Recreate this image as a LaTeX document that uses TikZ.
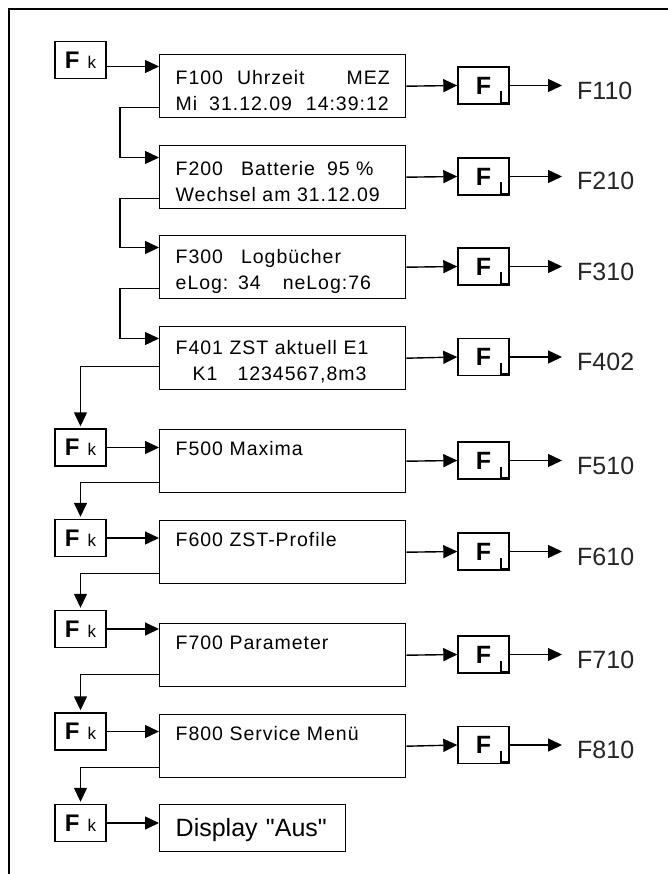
\documentclass[tikz,border=0pt]{standalone}
\usepackage{fontspec}
\setmainfont{Liberation Sans}
\newfontfamily\lcdfont[LetterSpace=5]{Liberation Sans}
\usetikzlibrary{arrows.meta,calc,positioning}

\tikzset{
    screenbox/.style={draw, line width=1.4pt, anchor=north west, minimum width=246pt,
        minimum height=63pt, text width=214pt, inner xsep=16pt, inner ysep=0pt,
        align=left, font=\lcdfont\fontsize{19.5}{26}\selectfont,
        execute at begin node={\rule{0pt}{22pt}}},
    keybox/.style={draw, line width=1.4pt, minimum width=51pt, minimum height=37pt,
        inner sep=0pt},
    longkey/.style={keybox, font=\bfseries\fontsize{25}{25}\selectfont,
        path picture={\draw[line width=1.4pt]
            ([xshift=-1pt,yshift=1.5pt]path picture bounding box.south east)
            -- ++(-7,0) -- ++(0,-11);}},
    outlabel/.style={anchor=west, inner sep=0pt, text=black!85,
        font=\fontsize{25}{30}\selectfont},
    arr/.style={line width=1.4pt, -{Triangle[length=14pt,width=13pt]}},
}

\begin{document}
\begin{tikzpicture}[x=1pt,y=-1pt]
    % Frame
    \useasboundingbox (0,0) rectangle (668,874);
    \draw[line width=2pt] (8.5,874) -- (8.5,9.5) -- (668,9.5);

    % Screens
    \node[screenbox] (s1) at (159,54) {F100\hspace{14pt}Uhrzeit\hfill MEZ\\
        Mi\hspace{12pt}31.12.09\hspace{14pt}14:39:12};
    \node[screenbox] (s2) at (159,145) {F200\hspace{18pt}Batterie\hspace{12pt}95 \%\\
        Wechsel am 31.12.09};
    \node[screenbox] (s3) at (159,235) {F300\hspace{18pt}Logb\"ucher\\
        eLog: 34\hspace{22pt}neLog:76};
    \node[screenbox] (s4) at (159,326) {F401 ZST aktuell E1\\
        \hspace{17pt}K1\hspace{20pt}1234567,8m3};
    \node[screenbox] (s5) at (159,429) {F500 Maxima\\\strut};
    \node[screenbox] (s6) at (159,520) {F600 ZST-Profile\\\strut};
    \node[screenbox] (s7) at (159,623) {F700 Parameter\\\strut};
    \node[screenbox] (s8) at (159,714) {F800 Service Men\"u\\\strut};
    \node[screenbox, minimum width=186pt, minimum height=47pt, text width=154pt,
        execute at begin node={}, font=\fontsize{25}{30}\selectfont] (s9) at (159,804)
        {Display \textquotedbl Aus\textquotedbl};

    % Fk keys
    \node[keybox] (k1) at (80.5,60) {\textbf{\fontsize{24}{24}\selectfont F}\hspace{8pt}{\fontsize{17}{17}\selectfont k}};
    \node[keybox] (k2) at (80.5,447.5) {\textbf{\fontsize{24}{24}\selectfont F}\hspace{8pt}{\fontsize{17}{17}\selectfont k}};
    \node[keybox] (k3) at (80.5,538) {\textbf{\fontsize{24}{24}\selectfont F}\hspace{8pt}{\fontsize{17}{17}\selectfont k}};
    \node[keybox] (k4) at (80.5,629) {\textbf{\fontsize{24}{24}\selectfont F}\hspace{8pt}{\fontsize{17}{17}\selectfont k}};
    \node[keybox] (k5) at (80.5,731.5) {\textbf{\fontsize{24}{24}\selectfont F}\hspace{8pt}{\fontsize{17}{17}\selectfont k}};
    \node[keybox] (k6) at (80.5,823) {\textbf{\fontsize{24}{24}\selectfont F}\hspace{8pt}{\fontsize{17}{17}\selectfont k}};

    % Long press keys
    \node[longkey] (l1) at (483.5,85.5) {F\hspace{6pt}};
    \node[longkey] (l2) at (483.5,176.5) {F\hspace{6pt}};
    \node[longkey] (l3) at (483.5,266.5) {F\hspace{6pt}};
    \node[longkey] (l4) at (483.5,357) {F\hspace{6pt}};
    \node[longkey] (l5) at (483.5,460.5) {F\hspace{6pt}};
    \node[longkey] (l6) at (483.5,551.5) {F\hspace{6pt}};
    \node[longkey] (l7) at (483.5,654.5) {F\hspace{6pt}};
    \node[longkey] (l8) at (483.5,745) {F\hspace{6pt}};

    % Targets
    \node[outlabel] (t1) at (577,91) {F110};
    \node[outlabel] (t2) at (577,181) {F210};
    \node[outlabel] (t3) at (577,271.5) {F310};
    \node[outlabel] (t4) at (577,362) {F402};
    \node[outlabel] (t5) at (577,465.5) {F510};
    \node[outlabel] (t6) at (577,556.5) {F610};
    \node[outlabel] (t7) at (577,659.5) {F710};
    \node[outlabel] (t8) at (577,750) {F810};

    % Entry and exit points
    \coordinate (i1) at ($(s1.north west)+(0,12.5)$);
    \coordinate (i2) at ($(s2.north west)+(0,12.5)$);
    \coordinate (i3) at ($(s3.north west)+(0,12.5)$);
    \coordinate (i4) at ($(s4.north west)+(0,12.5)$);
    \coordinate (o1) at ($(s1.south west)+(0,-11)$);
    \coordinate (o2) at ($(s2.south west)+(0,-11)$);
    \coordinate (o3) at ($(s3.south west)+(0,-11)$);
    \coordinate (o4) at ($(s4.south west)+(0,-24)$);
    \coordinate (o5) at ($(s5.south west)+(0,-11)$);
    \coordinate (o6) at ($(s6.south west)+(0,-11)$);
    \coordinate (o7) at ($(s7.south west)+(0,-13)$);
    \coordinate (o8) at ($(s8.south west)+(0,-11)$);

    % Fk chain
    \draw[arr] (k1.east |- i1) -- (i1);
    \draw[arr] (o1) -- ++(-39,0) |- (i2);
    \draw[arr] (o2) -- ++(-39,0) |- (i3);
    \draw[arr] (o3) -- ++(-39,0) |- (i4);
    \draw[arr, shorten >=2pt] (o4) -| (k2.north);
    \draw[arr, shorten >=2pt] (o5) -| (k3.north);
    \draw[arr, shorten >=2pt] (o6) -| (k4.north);
    \draw[arr, shorten >=2pt] (o7) -| (k5.north);
    \draw[arr, shorten >=2pt] (o8) -| (k6.north);
    \draw[arr] (k2.east) -- (k2.east -| s5.west);
    \draw[arr] (k3.east) -- (k3.east -| s6.west);
    \draw[arr] (k4.east) -- (k4.east -| s7.west);
    \draw[arr] (k5.east) -- (k5.east -| s8.west);
    \draw[arr] (k6.east) -- (k6.east -| s9.west);

    % Long press branches
    \draw[arr] (s1.east) -- (l1.west);
    \draw[arr] (s2.east) -- (l2.west);
    \draw[arr] (s3.east) -- (l3.west);
    \draw[arr] (s4.east) -- (l4.west);
    \draw[arr] (s5.east) -- (l5.west);
    \draw[arr] (s6.east) -- (l6.west);
    \draw[arr] (s7.east) -- (l7.west);
    \draw[arr] (s8.east) -- (l8.west);
    \draw[arr, shorten >=15pt] (l1.east) -- (l1.east -| t1.west);
    \draw[arr, shorten >=15pt] (l2.east) -- (l2.east -| t2.west);
    \draw[arr, shorten >=15pt] (l3.east) -- (l3.east -| t3.west);
    \draw[arr, shorten >=15pt] (l4.east) -- (l4.east -| t4.west);
    \draw[arr, shorten >=15pt] (l5.east) -- (l5.east -| t5.west);
    \draw[arr, shorten >=15pt] (l6.east) -- (l6.east -| t6.west);
    \draw[arr, shorten >=15pt] (l7.east) -- (l7.east -| t7.west);
    \draw[arr, shorten >=15pt] (l8.east) -- (l8.east -| t8.west);
\end{tikzpicture}
\end{document}
